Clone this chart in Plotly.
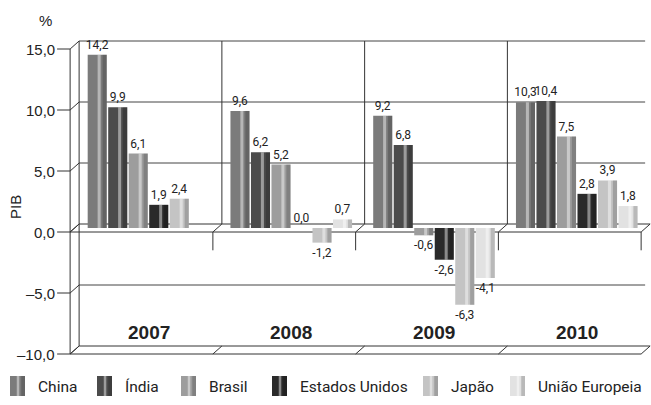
import plotly.graph_objects as go

# ---------------- data ----------------
years = ["2007", "2008", "2009", "2010"]
series_names = ["China", "Índia", "Brasil", "Estados Unidos", "Japão", "União Europeia"]
china = [14.2, 9.6, 9.2, 10.3]
india = [9.9, 6.2, 6.8, 10.4]
brasil = [6.1, 5.2, -0.6, 7.5]
eua = [1.9, 0.0, -2.6, 2.8]
japao = [2.4, -1.2, -6.3, 3.9]
ue = [None, 0.7, -4.1, 1.8]
tick_vals = [15, 10, 5, 0, -5, -10]
tick_text = ["15,0", "10,0", "5,0", "0,0", "–5,0", "–10,0"]

series_values = [china, india, brasil, eua, japao, ue]
colors = ["#7b7b7b", "#4b4b4b", "#9d9d9d", "#2a2a2a", "#c4c4c4", "#e2e2e2"]

# ---------------- geometry / style ----------------
W, H = 651, 405
ML, MR, MT, MB = 50, 0, 40, 45
XR = [-0.69, 3.52]
YR = [-10.82, 15.41]
XPX = (W - ML - MR) / (XR[1] - XR[0])
YPX = (H - MT - MB) / (YR[1] - YR[0])
BARGAP, GROUPGAP = 0.138, 0.07
NS = len(series_names)
slot = (1 - BARGAP) / NS
bw = slot * (1 - GROUPGAP)

FONT_LBL = "Roboto, Arial, sans-serif"
FONT_LEG = "Roboto, Arial, sans-serif"
FONT2 = "Liberation Sans, Arial, sans-serif"

# legend layout (pixel positions of swatch left edges, legend row centre)
LEG_X = [10, 97, 181, 272, 423, 510]
LEG_Y = 386
SW_W, SW_H = 15, 20

xs = list(range(len(years)))

fig = go.Figure()
for name, vals, col in zip(series_names, series_values, colors):
    fig.add_trace(go.Bar(
        x=xs, y=vals, name=name, marker=dict(color=col, line=dict(width=0)),
        texttemplate="%{y:.1f}", textposition="outside", constraintext="none",
        cliponaxis=False, textfont=dict(family=FONT_LBL, size=12, color="#222"),
        showlegend=False, hoverinfo="skip"))

# cylinder shading (highlight stripe + right shade) as overlaid narrow bars
for i, vals in enumerate(series_values):
    c = -(1 - BARGAP) / 2 + slot * (i + 0.5)
    fig.add_trace(go.Bar(x=xs, y=vals, offset=c + 0.02 * bw, width=0.16 * bw,
                         marker=dict(color="rgba(255,255,255,0.45)", line=dict(width=0)),
                         showlegend=False, hoverinfo="skip"))
    fig.add_trace(go.Bar(x=xs, y=vals, offset=c + 0.28 * bw, width=0.22 * bw,
                         marker=dict(color="rgba(0,0,0,0.18)", line=dict(width=0)),
                         showlegend=False, hoverinfo="skip"))

# ---------------- 3D frame ----------------
def front(xb, v):
    return xb - 7 / XPX, v - 4 / YPX

def back(xb, v):
    return xb + 2 / XPX, v + 4 / YPX

shapes = []
def line(p0, p1, color="#333", width=1):
    shapes.append(dict(type="line", xref="x", yref="y", x0=p0[0], y0=p0[1],
                       x1=p1[0], y1=p1[1], line=dict(color=color, width=width),
                       layer="below"))

bounds = [i - 0.5 for i in range(len(years) + 1)]
x_first, x_last = bounds[0], bounds[-1]
ymax, ymin = max(tick_vals), min(tick_vals)

# back wall gridlines
for v in tick_vals:
    if v in (0, ymin):
        continue
    line(back(x_first, v), (back(x_last, v)[0] - 5 / XPX, back(x_last, v)[1]), "#444")
# diagonals from front axis ticks to back wall + tick marks
for v in tick_vals:
    line(front(x_first, v), back(x_first, v), "#333")
    f = front(x_first, v)
    line((f[0] - 13 / XPX, f[1]), f, "#333")
# front axis
line(front(x_first, ymax), front(x_first, ymin), "#333")
# back wall left edge
line(back(x_first, ymax), back(x_first, ymin), "#333")
# dividers on back wall
for b in bounds[1:-1]:
    line(back(b, ymax), back(b, 0), "#333")
# shelf at 0 and floor at min
for v in (0, ymin):
    line(front(x_first, v), front(x_last, v), "#333")
    line(back(x_first, v), back(x_last, v), "#333")
    for b in bounds:
        line(front(b, v), back(b, v), "#333")
for b in bounds[1:]:
    line(front(b, 0), front(b, -1.5), "#333")

annotations = []
for v, t in zip(tick_vals, tick_text):
    annotations.append(dict(xref="x", yref="y", x=x_first - 20 / XPX, y=v - 4 / YPX,
                            text=t, showarrow=False, xanchor="right", yanchor="middle",
                            font=dict(family=FONT2, size=15, color="#222")))
for i, yr in enumerate(years):
    annotations.append(dict(xref="x", yref="y", x=i, y=ymin, yshift=18, text="<b>%s</b>" % yr,
                            showarrow=False, xanchor="center", yanchor="middle",
                            font=dict(family=FONT2, size=19, color="#222")))

def px_x(p):
    return (p - ML) / (W - ML - MR)

def px_y(p):
    return (H - MB - p) / (H - MT - MB)

annotations.append(dict(xref="paper", yref="paper", x=px_x(45), y=px_y(20), text="%",
                        showarrow=False, xanchor="center", yanchor="middle",
                        font=dict(family=FONT2, size=15, color="#222")))
annotations.append(dict(xref="paper", yref="paper", x=px_x(15), y=px_y(207), text="PIB",
                        textangle=-90, showarrow=False, xanchor="center", yanchor="middle",
                        font=dict(family=FONT2, size=15, color="#222")))

# custom legend: cylinder-like swatches + labels
for name, col, lx in zip(series_names, colors, LEG_X):
    x0, x1 = px_x(lx), px_x(lx + SW_W)
    y0, y1 = px_y(LEG_Y + SW_H / 2), px_y(LEG_Y - SW_H / 2)
    shapes.append(dict(type="rect", xref="paper", yref="paper", x0=x0, x1=x1, y0=y0, y1=y1,
                       fillcolor=col, line=dict(width=0), layer="above"))
    shapes.append(dict(type="rect", xref="paper", yref="paper",
                       x0=px_x(lx + 0.45 * SW_W), x1=px_x(lx + 0.62 * SW_W), y0=y0, y1=y1,
                       fillcolor="rgba(255,255,255,0.45)", line=dict(width=0), layer="above"))
    shapes.append(dict(type="rect", xref="paper", yref="paper",
                       x0=px_x(lx + 0.75 * SW_W), x1=x1, y0=y0, y1=y1,
                       fillcolor="rgba(0,0,0,0.18)", line=dict(width=0), layer="above"))
    annotations.append(dict(xref="paper", yref="paper", x=px_x(lx + SW_W + 11), y=px_y(LEG_Y + 1),
                            text=name, showarrow=False, xanchor="left", yanchor="middle",
                            font=dict(family=FONT_LEG, size=15.5, color="#222")))

fig.update_layout(
    width=W, height=H, margin=dict(l=ML, r=MR, t=MT, b=MB, autoexpand=False),
    barmode="group", bargap=BARGAP, bargroupgap=GROUPGAP,
    separators=", ",
    plot_bgcolor="white", paper_bgcolor="white",
    xaxis=dict(range=XR, visible=False, showgrid=False, zeroline=False),
    yaxis=dict(range=YR, visible=False, showgrid=False, zeroline=False),
    shapes=shapes, annotations=annotations,
    showlegend=False,
)

fig.write_html("out.html", config={"displayModeBar": False},
               post_script="document.body.style.margin='0';")
